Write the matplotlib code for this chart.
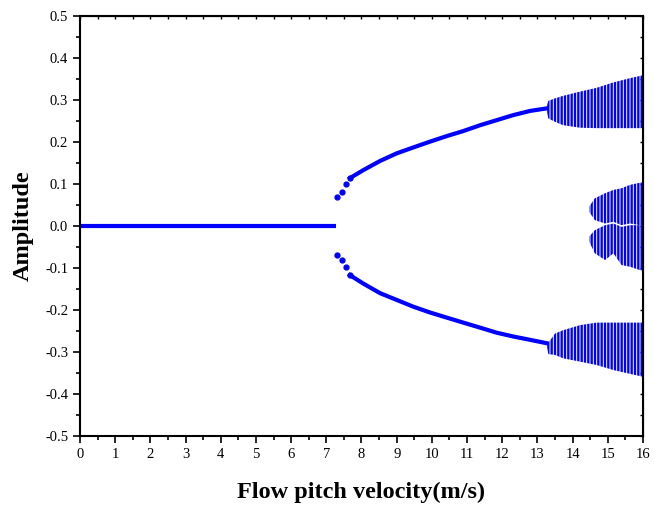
import numpy as np
import matplotlib.pyplot as plt
from matplotlib.ticker import MultipleLocator

plt.rcParams['font.family'] = ['Liberation Serif', 'DejaVu Serif']
plt.rcParams['hatch.color'] = 'blue'
plt.rcParams['hatch.linewidth'] = 1.7

# Trivial (zero) solution
zero_v = [0.0, 7.27]
zero_a = [0.0, 0.0]

# Limit cycle branches
branch_v = [7.31, 7.44, 7.56, 7.67, 8.05, 8.53, 9.0, 9.47, 9.95, 10.42,
            10.89, 11.37, 11.84, 12.31, 12.79, 13.26]
upper_a = [0.068, 0.082, 0.099, 0.114, 0.133, 0.155, 0.173, 0.187, 0.201,
           0.214, 0.226, 0.240, 0.252, 0.264, 0.274, 0.280]
lower_a = [-0.069, -0.081, -0.098, -0.117, -0.137, -0.160, -0.176, -0.192,
           -0.206, -0.218, -0.230, -0.242, -0.254, -0.263, -0.271, -0.279]

# Chaotic region envelopes
chaos_v = [13.26, 13.31, 13.50, 13.73, 14.21, 14.68, 15.16, 15.63, 16.0]
chaos_up_hi = [0.285, 0.298, 0.304, 0.310, 0.320, 0.329, 0.342, 0.352, 0.359]
chaos_up_lo = [0.275, 0.256, 0.248, 0.240, 0.234, 0.233, 0.233, 0.233, 0.233]
chaos_dn_hi = [-0.274, -0.278, -0.256, -0.248, -0.236, -0.230, -0.230, -0.230, -0.230]
chaos_dn_lo = [-0.284, -0.305, -0.307, -0.315, -0.323, -0.331, -0.343, -0.352, -0.359]

mid_v = [14.47, 14.63, 14.92, 15.16, 15.39, 15.63, 15.91, 16.0]
mid_up_hi = [0.046, 0.066, 0.078, 0.086, 0.090, 0.098, 0.103, 0.104]
mid_up_lo = [0.034, 0.014, 0.006, 0.010, 0.002, 0.006, 0.002, 0.002]
mid_dn_hi = [-0.025, -0.010, 0.002, 0.006, -0.002, 0.002, 0.002, 0.002]
mid_dn_lo = [-0.037, -0.065, -0.081, -0.065, -0.093, -0.097, -0.105, -0.106]

fig = plt.figure(figsize=(6.54, 5.05), dpi=100)
ax = fig.add_axes([0.1223, 0.1366, 0.8609, 0.8317])

ax.plot(zero_v, zero_a, color='blue', lw=3, solid_capstyle='butt')
for amp in (upper_a, lower_a):
    # isolated points right after the bifurcation, then a dense band
    ax.plot(branch_v[:4], amp[:4], color='blue', ls='none', marker='o', ms=3.5)
    ax.plot(branch_v[3:], amp[3:], color='blue', lw=3)

for v, hi, lo in [(chaos_v, chaos_up_hi, chaos_up_lo),
                  (chaos_v, chaos_dn_hi, chaos_dn_lo),
                  (mid_v, mid_up_hi, mid_up_lo),
                  (mid_v, mid_dn_hi, mid_dn_lo)]:
    ax.fill_between(v, lo, hi, facecolor='none', edgecolor='blue',
                    hatch='|||||', linewidth=0)

ax.set_xlim(0, 16)
ax.set_ylim(-0.5, 0.5)
ax.xaxis.set_minor_locator(MultipleLocator(0.5))
ax.yaxis.set_minor_locator(MultipleLocator(0.05))
ax.set_xticks(np.arange(0, 17, 1))
ax.set_xticklabels([str(i) for i in range(17)])
ax.set_yticks(np.round(np.arange(-0.5, 0.51, 0.1), 1))
ax.set_yticklabels(['-0.5', '-0.4', '-0.3', '-0.2', '-0.1', '0.0',
                    '0.1', '0.2', '0.3', '0.4', '0.5'])

ax.tick_params(which='both', direction='out', top=False, right=False,
               labelsize=10.5, width=1.2)
ax.tick_params(which='major', length=5)
ax.tick_params(which='minor', length=3)

for s in ax.spines.values():
    s.set_linewidth(1.5)

# small inward ticks on top and right
sec_x = ax.secondary_xaxis('top')
sec_x.set_xticks(np.arange(0, 16.01, 0.5))
sec_x.tick_params(direction='in', length=2, labeltop=False, width=1)
sec_y = ax.secondary_yaxis('right')
sec_y.set_yticks(np.round(np.arange(-0.5, 0.51, 0.05), 2))
sec_y.tick_params(direction='in', length=2, labelright=False, width=1)

ax.set_xlabel('Flow pitch velocity(m/s)', fontsize=17.5, fontweight='bold', labelpad=15)
ax.set_ylabel('Amplitude', fontsize=17.5, fontweight='bold', labelpad=8)

fig.savefig('out.png', dpi=100)
